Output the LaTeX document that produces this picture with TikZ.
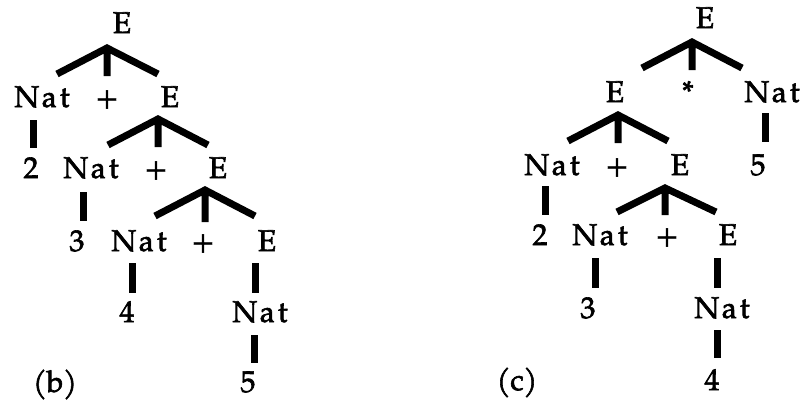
\documentclass[tikz,border=0pt]{standalone}
\usepackage{fontspec}
\setmainfont{TeX Gyre Pagella}[FakeBold=2]
\newcommand{\Nat}{N\kern2.5pt a\kern3pt t}
\begin{document}
\begin{tikzpicture}[x=1pt,y=-1pt,
  lbl/.style={anchor=base,inner sep=0pt,font=\fontsize{30}{31}\selectfont},
  edge/.style={line width=7pt,line cap=butt,line join=miter}]
\useasboundingbox (0,0) rectangle (800,402);
% ---------------- tree (b) ----------------
\node[lbl] (bE1) at (122,33) {E};
\node[lbl] (bN1) at (42,107) {\Nat};
\node[lbl] (bP1) at (107,107) {+};
\node[lbl] (bE2) at (170,107) {E};
\node[lbl] (b2) at (31,178) {2};
\node[lbl] (bN2) at (91,178) {\Nat};
\node[lbl] (bP2) at (156,178) {+};
\node[lbl] (bE3) at (218,178) {E};
\node[lbl] (b3) at (77,251) {3};
\node[lbl] (bN3) at (139,251) {\Nat};
\node[lbl] (bP3) at (203,251) {+};
\node[lbl] (bE4) at (267,251) {E};
\node[lbl] (b4) at (127,322) {4};
\node[lbl] (bN4) at (260,322) {\Nat};
\node[lbl] (bl) at (55,392) {(b)};
\node[lbl] (b5) at (248,392) {5};
% branches
\coordinate (bA1) at (107,48);  \coordinate (bL1) at (57,74);  \coordinate (bR1) at (158,74);  \coordinate (bM1) at (107,76);
\coordinate (bA2) at (158,119); \coordinate (bL2) at (108,145); \coordinate (bR2) at (208,145); \coordinate (bM2) at (158,147);
\coordinate (bA3) at (205,190); \coordinate (bL3) at (155,216); \coordinate (bR3) at (255,216); \coordinate (bM3) at (205,222);
\draw[edge] (bL1) -- (bA1) -- (bR1) (bA1) -- (bM1);
\draw[edge] (bL2) -- (bA2) -- (bR2) (bA2) -- (bM2);
\draw[edge] (bL3) -- (bA3) -- (bR3) (bA3) -- (bM3);
% stems
\coordinate (bT1) at (33,120);  \coordinate (bB1) at (33,148);
\coordinate (bT2) at (83,192);  \coordinate (bB2) at (83,221);
\coordinate (bT3) at (132,263); \coordinate (bB3) at (132,293);
\coordinate (bT4) at (255,263); \coordinate (bB4) at (255,293);
\coordinate (bT5) at (254,335); \coordinate (bB5) at (254,363);
\draw[edge] (bT1) -- (bB1);
\draw[edge] (bT2) -- (bB2);
\draw[edge] (bT3) -- (bB3);
\draw[edge] (bT4) -- (bB4);
\draw[edge] (bT5) -- (bB5);
% ---------------- tree (c) ----------------
\node[lbl] (cE1) at (705,28) {E};
\node[lbl] (cE2) at (615,102) {E};
\node[lbl] (cS) at (688,102) {*};
\node[lbl] (cN1) at (772,102) {\Nat};
\node[lbl] (cN2) at (552,175) {\Nat};
\node[lbl] (cP1) at (617,175) {+};
\node[lbl] (cE3) at (680,175) {E};
\node[lbl] (c5) at (758,175) {5};
\node[lbl] (c2) at (540,245) {2};
\node[lbl] (cN3) at (600,245) {\Nat};
\node[lbl] (cP2) at (667,245) {+};
\node[lbl] (cE4) at (728,245) {E};
\node[lbl] (c3) at (588,318) {3};
\node[lbl] (cN4) at (722,318) {\Nat};
\node[lbl] (cl) at (517,390) {(c)};
\node[lbl] (c4) at (712,390) {4};
% branches
\coordinate (cA1) at (692,42);  \coordinate (cL1) at (642,68);  \coordinate (cR1) at (742,68);  \coordinate (cM1) at (692,70);
\coordinate (cA2) at (618,115); \coordinate (cL2) at (568,141); \coordinate (cR2) at (668,141); \coordinate (cM2) at (618,143);
\coordinate (cA3) at (665,188); \coordinate (cL3) at (617,212); \coordinate (cR3) at (716,212); \coordinate (cM3) at (665,215);
\draw[edge] (cL1) -- (cA1) -- (cR1) (cA1) -- (cM1);
\draw[edge] (cL2) -- (cA2) -- (cR2) (cA2) -- (cM2);
\draw[edge] (cL3) -- (cA3) -- (cR3) (cA3) -- (cM3);
% stems
\coordinate (cT1) at (765,113); \coordinate (cB1) at (765,142);
\coordinate (cT2) at (545,186); \coordinate (cB2) at (545,215);
\coordinate (cT3) at (595,258); \coordinate (cB3) at (595,288);
\coordinate (cT4) at (717,258); \coordinate (cB4) at (717,288);
\coordinate (cT5) at (717,330); \coordinate (cB5) at (717,358);
\draw[edge] (cT1) -- (cB1);
\draw[edge] (cT2) -- (cB2);
\draw[edge] (cT3) -- (cB3);
\draw[edge] (cT4) -- (cB4);
\draw[edge] (cT5) -- (cB5);
\end{tikzpicture}
\end{document}
